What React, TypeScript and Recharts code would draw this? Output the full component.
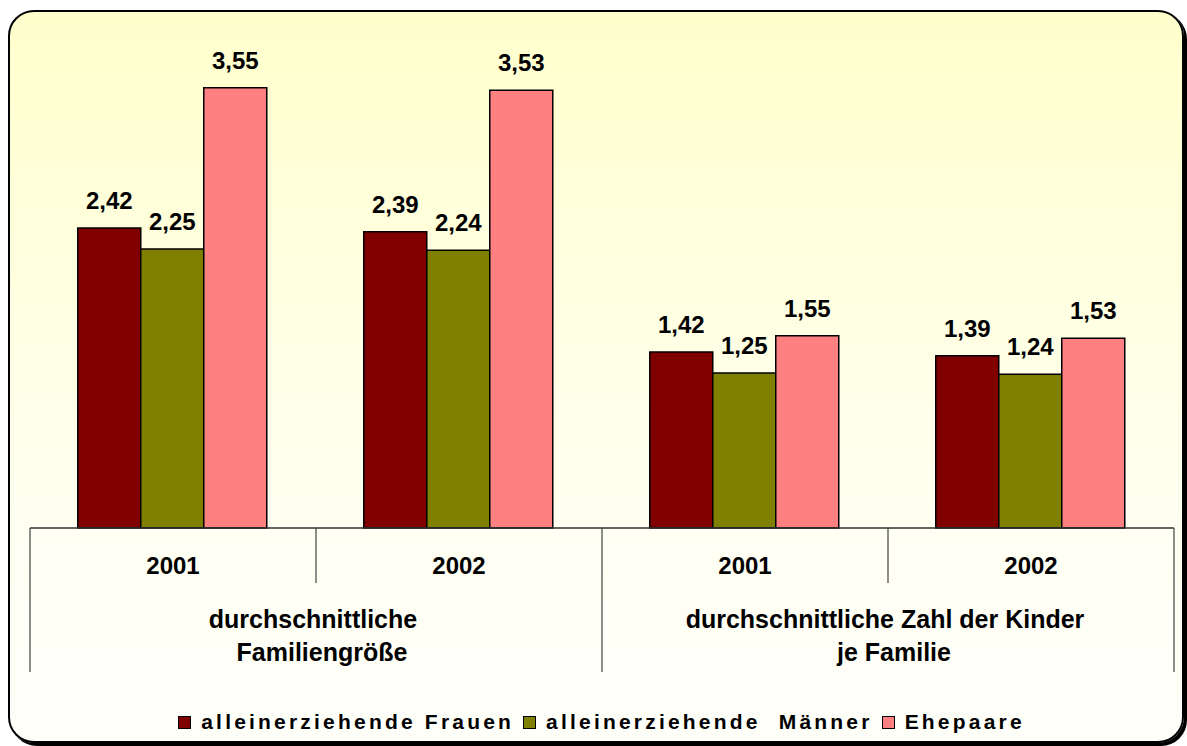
import React from 'react';
import { BarChart, Bar, XAxis, YAxis, LabelList, Legend } from 'recharts';

const categories = ['2001', '2002', '2001', '2002'];
const groupOfCategory = [0, 0, 1, 1];
const groupLabels = [
  ['durchschnittliche', 'Familiengröße'],
  ['durchschnittliche Zahl der Kinder', 'je Familie'],
];
const frauen = [2.42, 2.39, 1.42, 1.39];
const maenner = [2.25, 2.24, 1.25, 1.24];
const ehepaare = [3.55, 3.53, 1.55, 1.53];
const seriesNames = ['alleinerziehende Frauen', 'alleinerziehende  Männer', 'Ehepaare'];
const seriesColors = ['#800000', '#808000', '#FF8080'];

const data = categories.map((c, i) => ({
  year: c,
  frauen: frauen[i],
  maenner: maenner[i],
  ehepaare: ehepaare[i],
}));

const W = 1187;
const H = 746;
const MARGIN = { top: 32, right: 13, left: 30, bottom: 28 };
const BAND = (W - MARGIN.left - MARGIN.right) / categories.length;
const FONT = '"Liberation Sans", Arial, Helvetica, sans-serif';

const fmt = (v: any) => Number(v).toFixed(2).replace('.', ',');

function CategoryTick(props: any) {
  const { x, y, payload, index } = props;
  const left = x - BAND / 2;
  const right = x + BAND / 2;
  const g = groupOfCategory[index];
  const groupStart = index === 0 || groupOfCategory[index - 1] !== g;
  const isLast = index === categories.length - 1;
  const count = groupOfCategory.filter((v) => v === g).length;
  const lines = groupLabels[g];
  return (
    <g>
      <line x1={left} y1={y} x2={left} y2={y + (groupStart ? 144 : 55)} stroke="#404040" strokeWidth={1.2} />
      {isLast && <line x1={right} y1={y} x2={right} y2={y + 144} stroke="#404040" strokeWidth={1.2} />}
      <text x={x} y={y + 46} textAnchor="middle" fontFamily={FONT} fontWeight="bold" fontSize={24} fill="#000">
        {payload.value}
      </text>
      {groupStart &&
        lines.map((t, k) => (
          <text
            key={k}
            x={left + (count * BAND) / 2 + (k === 0 ? -3 : 6)}
            y={y + 100 + k * 33}
            textAnchor="middle"
            fontFamily={FONT}
            fontWeight="bold"
            fontSize={25}
            fill="#000"
          >
            {t}
          </text>
        ))}
    </g>
  );
}

function LegendContent() {
  return (
    <div
      style={{
        display: 'flex',
        justifyContent: 'center',
        alignItems: 'center',
        height: 40,
        fontFamily: FONT,
        fontWeight: 'bold',
        fontSize: 21,
        color: '#000',
        paddingLeft: 16,
      }}
    >
      {seriesNames.map((n, i) => (
        <div key={i} style={{ display: 'flex', alignItems: 'center', marginRight: i < seriesNames.length - 1 ? 9 : 0 }}>
          <span
            style={{
              display: 'inline-block',
              width: 11,
              height: 11,
              background: seriesColors[i],
              border: '1.5px solid #000',
              marginRight: 10,
            }}
          />
          <span style={{ letterSpacing: 3.2, whiteSpace: 'pre' }}>{n}</span>
        </div>
      ))}
    </div>
  );
}

export default function App() {
  return (
    <div style={{ position: 'absolute', left: 0, top: 0, width: W, height: H, background: '#fff' }}>
      <div
        style={{
          position: 'absolute',
          left: 8,
          top: 10,
          width: 1172,
          height: 729,
          border: '2px solid #000',
          borderRadius: 26,
          background: 'linear-gradient(to bottom, #FFFFCC 0%, #FFFFE2 40%, #FFFFF2 70%, #FFFFFA 100%)',
          boxShadow: '3px 3px 0 #000',
        }}
      />
      <div style={{ position: 'absolute', left: 0, top: 0 }}>
        <BarChart width={W} height={H} data={data} margin={MARGIN} barCategoryGap="16.7%" barGap={0}>
          <YAxis hide domain={[0, 4]} />
          <XAxis
            dataKey="year"
            height={150}
            tickSize={0}
            tickMargin={0}
            tickLine={false}
            axisLine={{ stroke: '#303030', strokeWidth: 1.5 }}
            tick={<CategoryTick />}
            interval={0}
          />
          <Legend
            verticalAlign="bottom"
            content={<LegendContent />}
            wrapperStyle={{ left: 0, width: W, top: 702, bottom: 'auto', height: 40 }}
          />
          {(['frauen', 'maenner', 'ehepaare'] as const).map((k, i) => (
            <Bar
              key={k}
              dataKey={k}
              name={seriesNames[i]}
              fill={seriesColors[i]}
              stroke="#000"
              strokeWidth={1.5}
              isAnimationActive={false}
            >
              <LabelList
                dataKey={k}
                position="top"
                offset={19}
                formatter={fmt}
                style={{ fontFamily: FONT, fontWeight: 'bold', fontSize: 24, fill: '#000' }}
              />
            </Bar>
          ))}
        </BarChart>
      </div>
    </div>
  );
}
